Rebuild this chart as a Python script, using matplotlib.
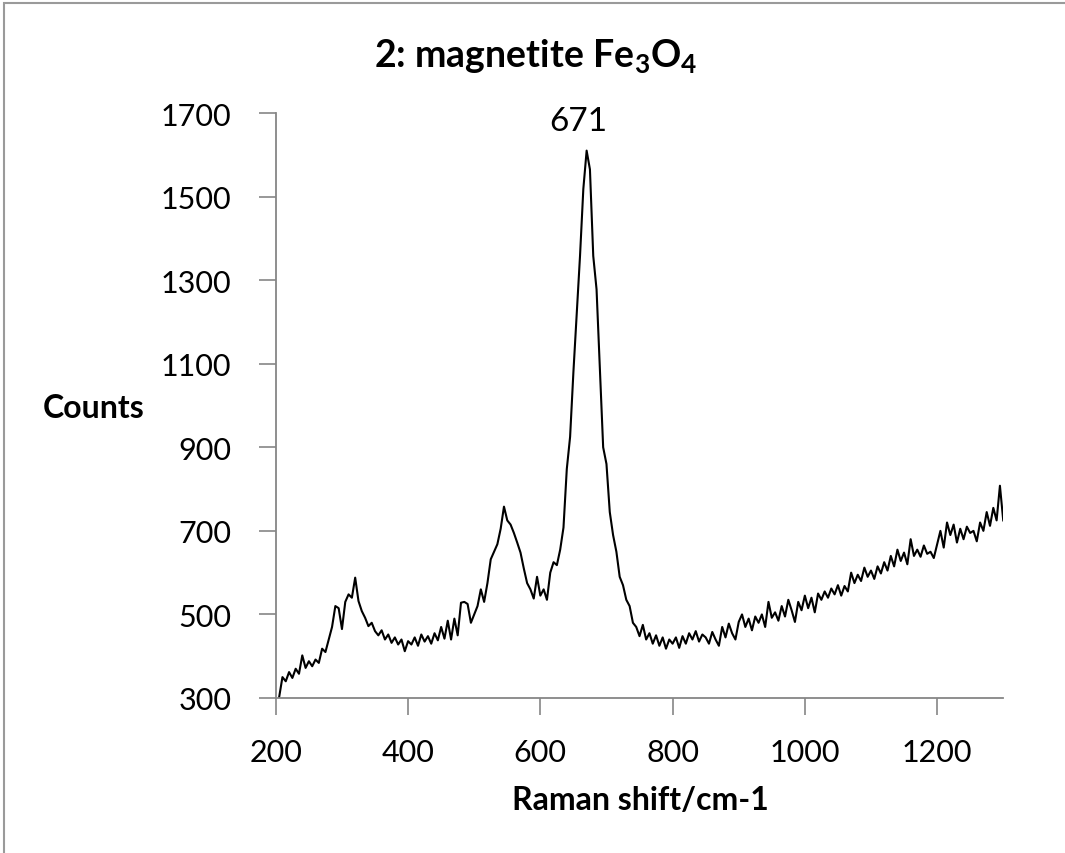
import numpy as np
import matplotlib
matplotlib.use("Agg")
import matplotlib.pyplot as plt
from matplotlib.patches import Rectangle

# Raman shift grid (cm-1), sampled every 5 cm-1
shift_start, shift_stop, shift_step = 205, 1300, 5

counts_205_300 = [302, 350, 340, 362, 348, 370, 358, 402, 372, 388,
                  376, 392, 384, 418, 410, 440, 470, 520, 515, 465]
counts_305_400 = [530, 548, 540, 588, 532, 508, 492, 472, 480, 460,
                  450, 462, 440, 452, 432, 445, 428, 440, 412, 436]
counts_405_500 = [428, 445, 425, 452, 435, 448, 430, 455, 438, 470,
                  442, 485, 440, 490, 450, 528, 530, 525, 480, 500]
counts_505_600 = [520, 560, 530, 575, 632, 650, 668, 705, 758, 725,
                  715, 695, 672, 648, 610, 575, 560, 538, 590, 545]
counts_605_700 = [560, 535, 600, 625, 618, 655, 708, 848, 925, 1080,
                  1220, 1358, 1518, 1610, 1565, 1358, 1278, 1087, 900, 860]
counts_705_800 = [745, 690, 650, 590, 570, 535, 520, 480, 470, 448,
                  475, 440, 455, 430, 450, 425, 445, 418, 440, 430]
counts_805_900 = [445, 420, 448, 430, 455, 440, 460, 435, 452, 445,
                  430, 458, 440, 425, 470, 445, 478, 455, 440, 482]
counts_905_1000 = [500, 470, 490, 462, 495, 480, 500, 470, 530, 492,
                   505, 485, 520, 495, 535, 510, 482, 530, 510, 545]
counts_1005_1100 = [515, 540, 505, 550, 535, 555, 540, 562, 548, 570,
                    545, 568, 555, 600, 575, 595, 580, 612, 590, 605]
counts_1105_1200 = [585, 615, 598, 625, 605, 640, 615, 655, 628, 648,
                    620, 680, 640, 655, 638, 665, 645, 650, 635, 668]
counts_1205_1300 = [700, 660, 720, 690, 715, 672, 705, 680, 710, 695,
                    700, 675, 720, 700, 745, 712, 755, 725, 808, 725]

x_ticks = [200, 400, 600, 800, 1000, 1200]
y_ticks = [300, 500, 700, 900, 1100, 1300, 1500, 1700]
peak_label = "671"
peak_label_x = 657
peak_label_y = 1680

shift = np.arange(shift_start, shift_stop + 1, shift_step)
counts = np.array(counts_205_300 + counts_305_400 + counts_405_500 + counts_505_600 +
                  counts_605_700 + counts_705_800 + counts_805_900 + counts_905_1000 +
                  counts_1005_1100 + counts_1105_1200 + counts_1205_1300)

plt.rcParams['font.family'] = ['Lato', 'DejaVu Sans']
plt.rcParams['mathtext.fontset'] = 'custom'
plt.rcParams['mathtext.rm'] = 'Lato:bold'
plt.rcParams['mathtext.it'] = 'Lato:bold'
plt.rcParams['mathtext.bf'] = 'Lato:bold'

fig = plt.figure(figsize=(10.65, 8.54), dpi=100)
ax = fig.add_axes([0.259, 0.1815, 0.683, 0.685])

ax.plot(shift, counts, color='black', linewidth=1.5)

ax.set_xlim(200, 1300)
ax.set_ylim(300, 1700)
ax.set_xticks(x_ticks)
ax.set_yticks(y_ticks)
ax.tick_params(axis='both', labelsize=22, length=12, width=1.2,
               direction='out', colors='#868686', labelcolor='black')
ax.tick_params(axis='y', pad=20)
ax.tick_params(axis='x', pad=17)
for s in ['top', 'right']:
    ax.spines[s].set_visible(False)
for s in ['left', 'bottom']:
    ax.spines[s].set_color('#868686')
    ax.spines[s].set_linewidth(1.3)

ax.text(peak_label_x, peak_label_y, peak_label, ha='center', va='center', fontsize=24)

fig.text(0.503, 0.935, r'2: magnetite Fe$_3$O$_4$', ha='center', va='center',
         fontsize=27, fontweight='bold')
fig.text(0.04, 0.522, 'Counts', ha='left', va='center', fontsize=23, fontweight='bold')
fig.text(0.601, 0.063, 'Raman shift/cm-1', ha='center', va='center', fontsize=23,
         fontweight='bold')

fig.patches.append(Rectangle((4/1065, -0.2), 1.2, 1 - 4/854 + 0.2,
                             transform=fig.transFigure, fill=False,
                             edgecolor='#9a9a9a', linewidth=1.5))

fig.savefig('out.png', dpi=100)
